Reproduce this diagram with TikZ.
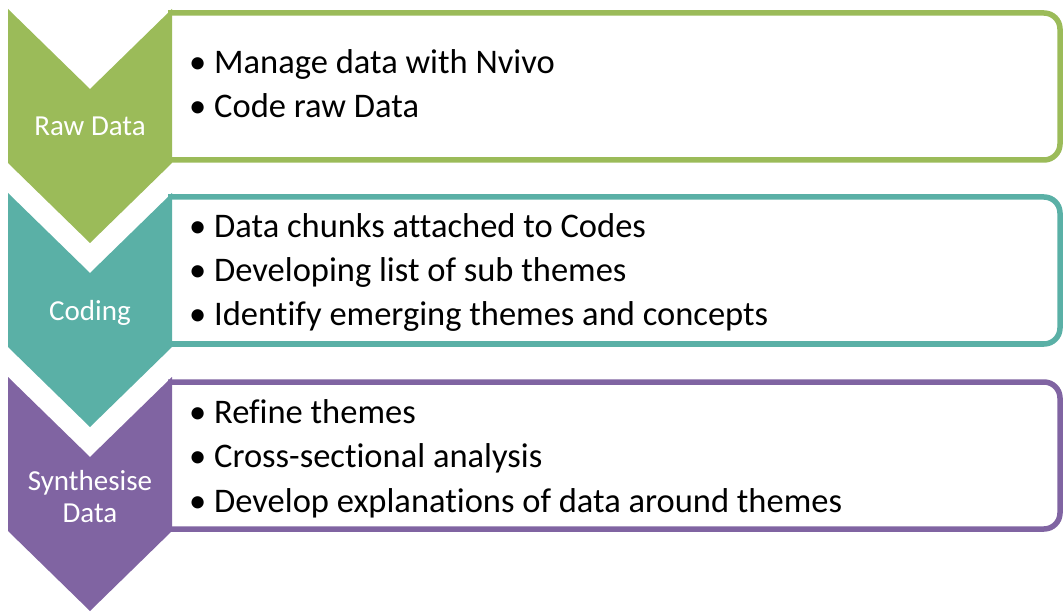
\documentclass[tikz,border=0pt]{standalone}
\usepackage{fontspec}
\setmainfont{Carlito}[Ligatures=NoCommon]
\usepackage{tikz}
\definecolor{rawgreen}{HTML}{9BBB59}
\definecolor{codeteal}{HTML}{5AB0A6}
\definecolor{synpurple}{HTML}{8064A2}

\begin{document}
\begin{tikzpicture}[x=1pt,y=-1pt]
\tikzstyle{every node}+=[inner sep=0pt]
\tikzstyle{stagebox}=[line width=5.5pt, rounded corners=16pt]
\tikzstyle{stagelabel}=[text=white, font=\fontsize{29}{32}\selectfont, align=center]
\tikzstyle{point}=[anchor=base west, font=\fontsize{34.5}{38}\selectfont]
\useasboundingbox (0,0) rectangle (1063,612);
% raw data
\draw [rawgreen, stagebox] (168,13) -- (1060,13) -- (1060,160) -- (168,160);
\fill [rawgreen] (8,9) -- (90,89) -- (172,9) -- (172,163) -- (90,243) -- (8,163) -- cycle;
\node [stagelabel, anchor=base] (raw) at (90,136) {Raw Data};
\node [point] (raw1) at (189,74) {\textbullet\ Manage data with Nvivo};
\node [point] (raw2) at (189,118) {\textbullet\ Code raw Data};
% coding
\draw [codeteal, stagebox] (168,197) -- (1060,197) -- (1060,344) -- (168,344);
\fill [codeteal] (8,193) -- (90,273) -- (172,193) -- (172,347) -- (90,427) -- (8,347) -- cycle;
\node [stagelabel, anchor=base] (coding) at (90,321) {Coding};
\node [point] (coding1) at (189,238) {\textbullet\ Data chunks attached to Codes};
\node [point] (coding2) at (189,282) {\textbullet\ Developing list of sub themes};
\node [point] (coding3) at (189,326) {\textbullet\ Identify emerging themes and concepts};
% synthesise
\draw [synpurple, stagebox] (168,382) -- (1060,382) -- (1060,529) -- (168,529);
\fill [synpurple] (8,377) -- (90,457) -- (172,377) -- (172,531) -- (90,611) -- (8,531) -- cycle;
\node [stagelabel] (synth) at (90,497) {Synthesise\\Data};
\node [point] (synth1) at (189,423) {\textbullet\ Refine themes};
\node [point] (synth2) at (189,467) {\textbullet\ Cross-sectional analysis};
\node [point] (synth3) at (189,512) {\textbullet\ Develop explanations of data around themes};
\end{tikzpicture}
\end{document}
